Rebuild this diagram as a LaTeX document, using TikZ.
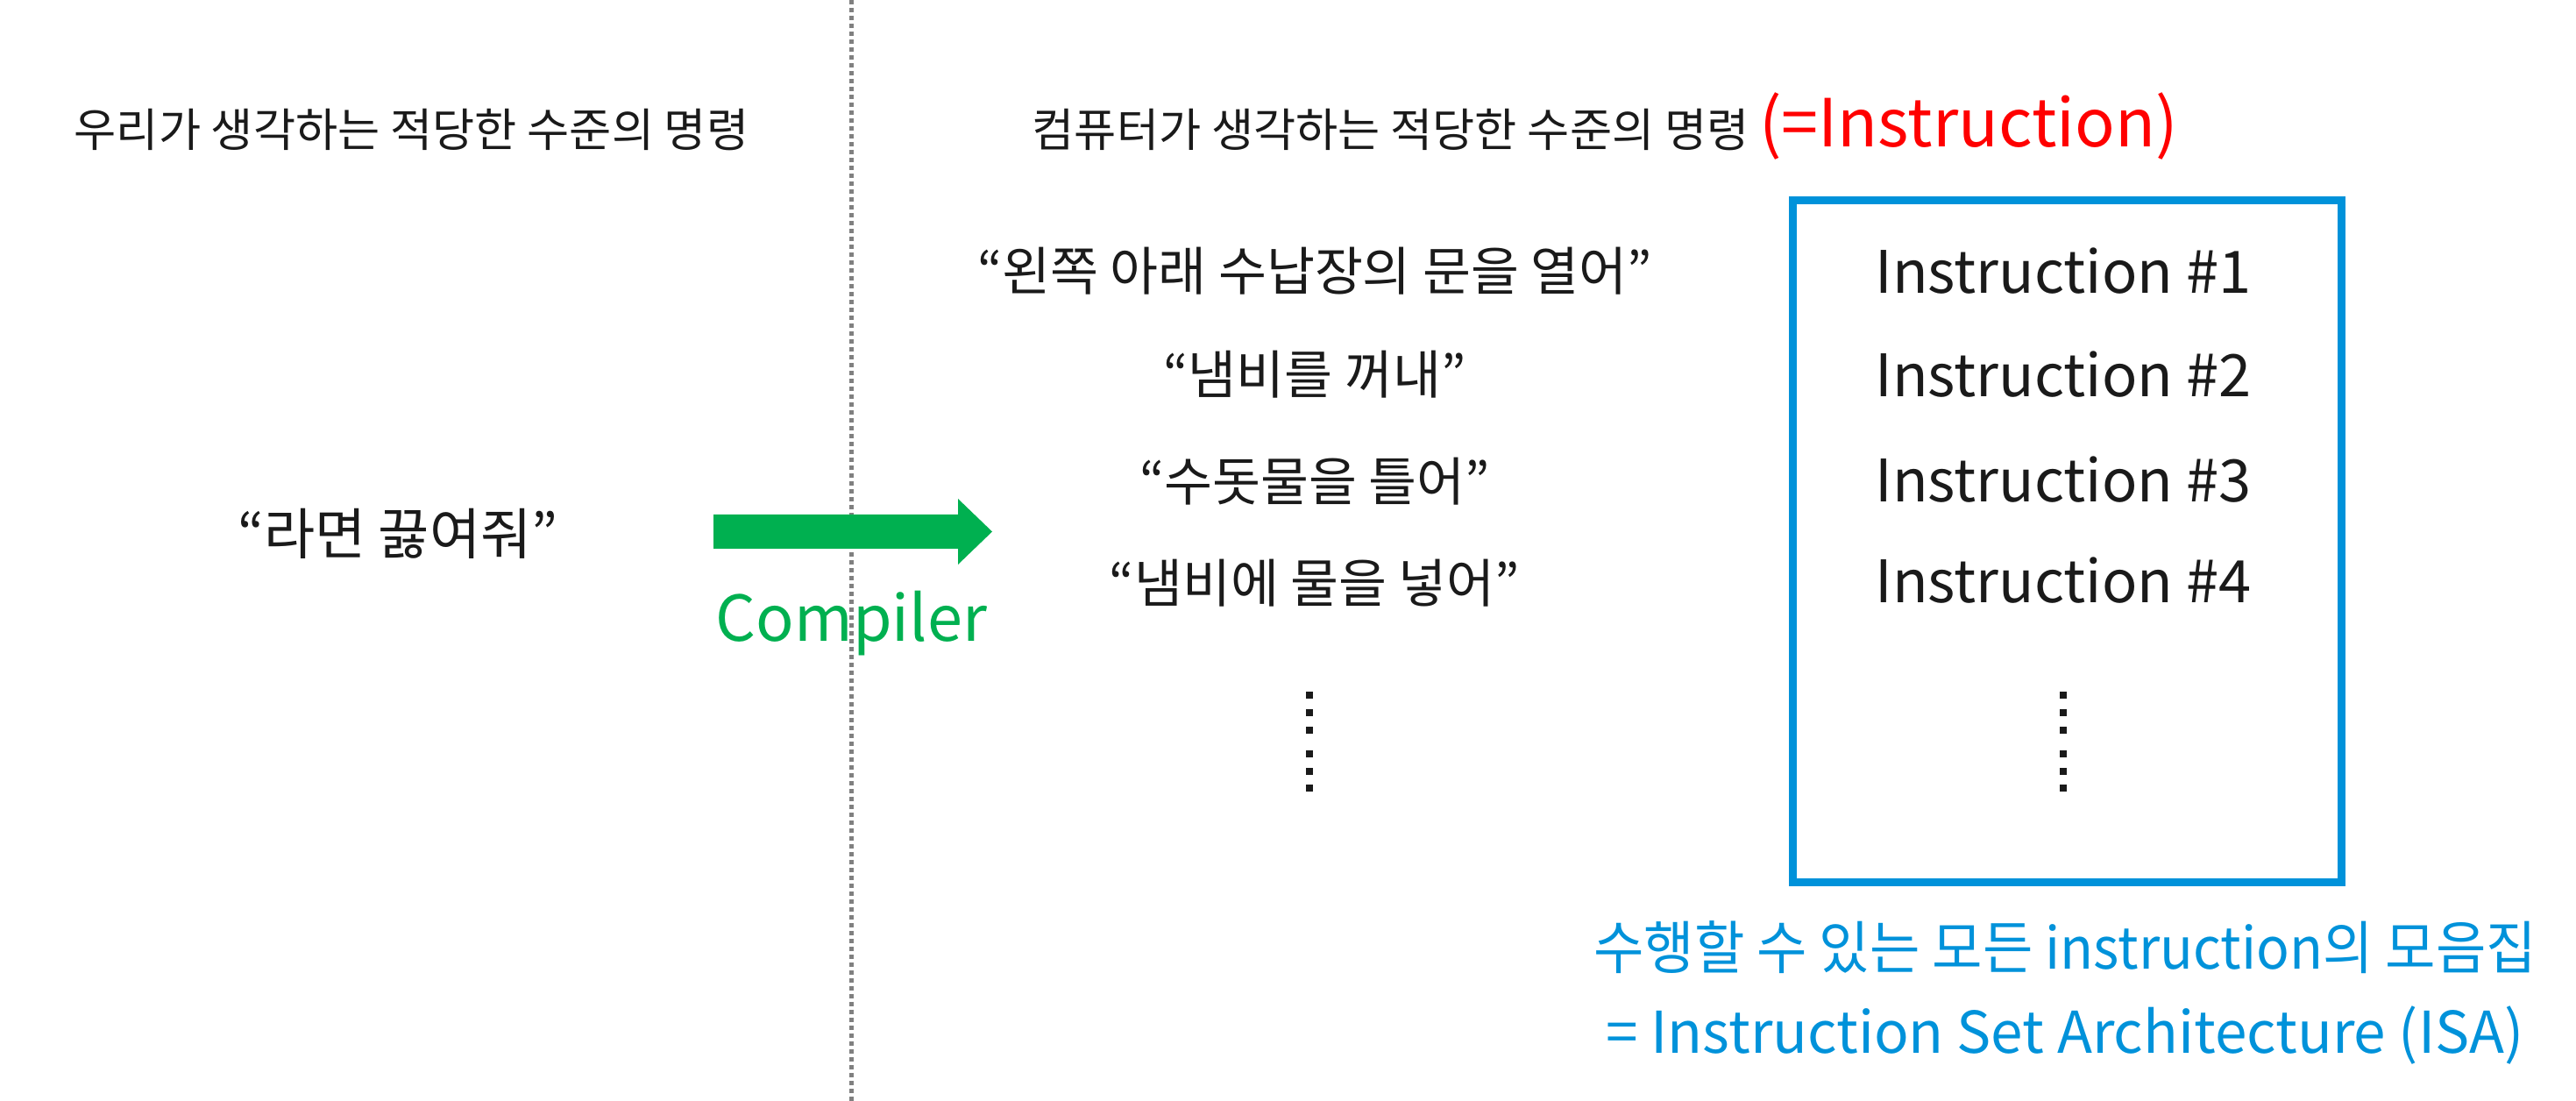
\documentclass[tikz,border=0pt]{standalone}
\usepackage{fontspec}
\setmainfont{Noto Sans CJK KR}
\newfontfamily\narrowfont[FakeStretch=0.95]{Noto Sans CJK KR}
\usetikzlibrary{positioning}

\definecolor{isablue}{RGB}{0,146,218}
\definecolor{compgreen}{RGB}{0,176,80}
\definecolor{ink}{RGB}{26,26,26}

\begin{document}
\begin{tikzpicture}[
  hdr/.style={anchor=base west, inner sep=0pt, text=ink,
              font=\fontsize{14.9}{18}\selectfont},
  cmd/.style={inner sep=0pt, text=ink, font=\fontsize{17}{20}\selectfont},
  instr/.style={inner sep=0pt, text=ink, font=\fontsize{19}{22}\selectfont},
  isa/.style={inner sep=0pt, text=isablue, font=\fontsize{18.7}{22}\selectfont},
  divider/.style={draw=black!50, line width=0.05cm,
                  dash pattern=on 0.05cm off 0.04cm},
  isabox/.style={draw=isablue, line width=0.09cm,
                 minimum width=6.26cm, minimum height=7.78cm},
  vdot/.style={fill=ink},
]

  \def\qc{15.0}
  \def\ic{23.54}

  \useasboundingbox (0,0) rectangle (29.39,12.56);

  % Divider

  \coordinate (divtop) at (9.71,12.56);
  \coordinate (divbot) at (9.71,0);
  \draw[divider] (divtop) -- (divbot);

  % Headings

  \node[hdr] (human)   at (0.84,10.88) {우리가 생각하는 적당한 수준의 명령};
  \node[hdr] (machine) at (11.77,10.88)
    {컴퓨터가 생각하는 적당한 수준의 명령 {\color{red}\fontsize{21.5}{25}\selectfont(=Instruction)}};

  % Left side: high level command

  \node[cmd, font=\fontsize{18}{22}\selectfont] (ramen) at (4.54,6.47) {“라면 끓여줘”};

  % Compiler arrow

  \coordinate (arrtail) at (8.14,6.495);
  \coordinate (arrtip)  at (11.32,6.495);
  \fill[compgreen] (arrtail) ++(0,0.195) -- ++(2.79,0) -- ++(0,0.18) -- (arrtip)
    -- ++(-0.39,-0.375) -- ++(0,0.18) -- ++(-2.79,0) -- cycle;
  \node[anchor=base, inner sep=0pt, text=compgreen,
        font=\fontsize{20.5}{24}\selectfont] (comp) at (9.715,5.24) {Compiler};

  % Right side: machine steps

  \node[cmd] (q1) at (\qc,9.47) {“왼쪽 아래 수납장의 문을 열어”};
  \node[cmd] (q2) at (\qc,8.29) {“냄비를 꺼내”};
  \node[cmd] (q3) at (\qc,7.07) {“수돗물을 틀어”};
  \node[cmd] (q4) at (\qc,5.91) {“냄비에 물을 넣어”};

  % Instruction set box

  \node[isabox] (isabox) at (23.58,6.38) {};
  \foreach \i/\y in {1/9.47,2/8.29,3/7.09,4/5.94}
    \node[instr] (ins\i) at (\ic,\y) {Instruction \#\i};

  % Vertical dots (both columns)
  \foreach \y in {4.63,4.43,4.23,3.96,3.76,3.57} {
    \fill[vdot] (\qc-0.10,\y-0.04) rectangle ++(0.08,0.08);
    \fill[vdot] (\ic-0.04,\y-0.04) rectangle ++(0.08,0.08);
  }

  % ISA caption

  \node[isa, font=\narrowfont\fontsize{18.7}{22}\selectfont] (isa1) at (23.56,1.75)
    {수행할 수 있는 모든 instruction의 모음집};
  \node[isa] (isa2) at (23.56,0.75) {= Instruction Set Architecture (ISA)};

\end{tikzpicture}
\end{document}
